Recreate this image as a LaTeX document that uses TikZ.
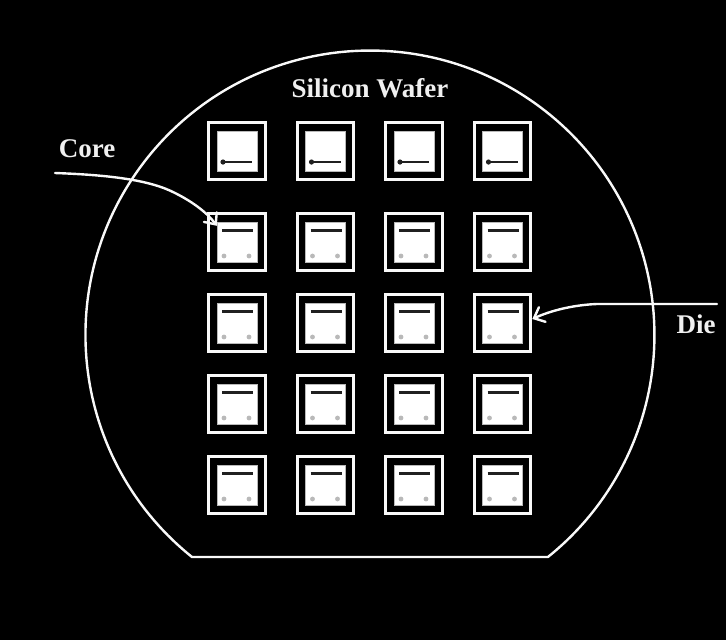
\documentclass[tikz,border=0pt]{standalone}
\usepackage{fontspec}
\setmainfont{Liberation Serif}
\usetikzlibrary{arrows.meta}
\tikzset{
  wafer/.style={draw=gray!5, line width=2.4pt, line join=round},
  tag/.style={text=gray!12, font=\bfseries\fontsize{27}{30}\selectfont, inner sep=0pt},
  arr/.style={draw=gray!5, line width=2.4pt, line cap=round, -{Straight Barb[length=9pt, width=16pt, line cap=round]}},
  die base/.style={draw=gray!5, fill=black, line width=3.2pt, minimum size=56.5pt, inner sep=0pt},
  die/.style={die base, path picture={
      \begin{scope}[shift={(path picture bounding box.center)}]
        \fill[white, draw=gray!55, line width=0.8pt] (-20,-20) rectangle (20,20);
        \draw[gray!25!black, line width=3pt] (-15,-12) -- (16,-12);
        \fill[gray!55] (-13,14) circle[radius=2.4] (12,14) circle[radius=2.4];
      \end{scope}}},
  die low/.style={die base, path picture={
      \begin{scope}[shift={(path picture bounding box.center)}]
        \fill[white, draw=gray!55, line width=0.8pt] (-20,-20) rectangle (20,20);
        \draw[gray!25!black, line width=2.4pt] (-14,11) -- (15,11);
        \fill[gray!25!black] (-14,11) circle[radius=2.6];
      \end{scope}}},
  core box/.style={minimum size=40pt, inner sep=0pt}
}
\begin{document}
\begin{tikzpicture}[x=1pt, y=-1pt]
  \useasboundingbox (0,0) rectangle (726,640);
  \fill[black] (0,0) rectangle (726,640);

  \draw[wafer] (192,557) arc[start angle=128.72, end angle=411.28, radius=284.5] -- cycle;
  \node[tag] (wafer label) at (370,88) {Silicon Wafer};

  \matrix[column sep={88.5pt,between origins}, row sep={81pt,between origins}, ampersand replacement=\&] (dies) at (369.75,318)
  {
    \node[die low](d11){}; \& \node[die low](d12){}; \& \node[die low](d13){}; \& \node[die low](d14){}; \\[10pt]
    \node[die](d21){}; \& \node[die](d22){}; \& \node[die](d23){}; \& \node[die](d24){}; \\
    \node[die](d31){}; \& \node[die](d32){}; \& \node[die](d33){}; \& \node[die](d34){}; \\
    \node[die](d41){}; \& \node[die](d42){}; \& \node[die](d43){}; \& \node[die](d44){}; \\
    \node[die](d51){}; \& \node[die](d52){}; \& \node[die](d53){}; \& \node[die](d54){}; \\
  };
  \node[core box] (core) at (d21) {};

  \node[tag] (core label) at (87,149) {Core};
  \node[tag] (die label) at (696,324) {Die};
  \coordinate (core start) at (55,173);
  \coordinate (die start) at (717,304);

  \draw[arr] (core start) .. controls (110,175) and (150,180) .. (175,193)
    .. controls (195,203) and (208,214) .. ([yshift=-4pt]core.north west);
  \draw[arr] (die start) -- (597,304) .. controls (572,305) and (550,311) .. ([yshift=4pt]d34.east);
\end{tikzpicture}
\end{document}
